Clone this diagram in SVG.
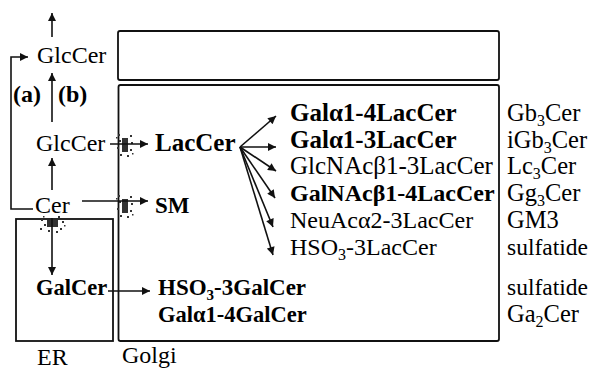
<svg xmlns="http://www.w3.org/2000/svg" width="590" height="369" viewBox="0 0 590 369" font-family="Liberation Serif, Times New Roman, serif">
<defs>
<marker id="ah" viewBox="0 0 10 10" refX="10" refY="5" markerWidth="9" markerHeight="8" markerUnits="userSpaceOnUse" orient="auto"><path d="M0,0 L10,5 L0,10 z" fill="#111"/></marker>
</defs>
<g id="boxes" fill="none" stroke="#111" stroke-width="1.8">
<rect id="topbox" x="118" y="31" width="381" height="49" rx="2"/>
<rect id="golgi-box" x="118.5" y="85" width="380.5" height="256" rx="2"/>
<rect id="er-box" x="16" y="219" width="97" height="122"/>
</g>
<g id="blobs" fill="#333">
<path d="M122,138h6v14h-6z M118,134h2v2h-2z M130,135h2v2h-2z M119,140h2v2h-2z M131,142h2v2h-2z M117,147h2v2h-2z M130,149h2v2h-2z M120,154h2v2h-2z M127,155h2v2h-2z M132,153h1.5v1.5h-1.5z M116,137h1.5v1.5h-1.5z"/>
<path d="M122,199h6v14h-6z M118,195h2v2h-2z M130,196h2v2h-2z M119,201h2v2h-2z M131,203h2v2h-2z M117,208h2v2h-2z M130,210h2v2h-2z M120,215h2v2h-2z M127,216h2v2h-2z M132,214h1.5v1.5h-1.5z M116,198h1.5v1.5h-1.5z"/>
<path d="M47,220h11v7h-11z M41,219h2v2h-2z M44,224h2v2h-2z M62,221h2v2h-2z M60,228h2v2h-2z M40,228h2v2h-2z M48,230h2v2h-2z M56,231h2v2h-2z M64,225h1.5v1.5h-1.5z M43,216h1.5v1.5h-1.5z M58,216h2v2h-2z"/>
</g>
<g id="connectors" stroke="#111" stroke-width="1.6" fill="none" marker-end="url(#ah)">
<line x1="52" y1="37" x2="52" y2="13"/>
<line x1="52" y1="122" x2="52" y2="73"/>
<line x1="52" y1="190" x2="52" y2="158"/>
<line x1="52" y1="218" x2="52" y2="275"/>
<polyline points="33,209 11,209 11,57 28,57"/>
<line x1="110" y1="144" x2="148" y2="144"/>
<line x1="82" y1="201" x2="148" y2="201"/>
<line x1="108" y1="291" x2="150" y2="291"/>
<line x1="240" y1="147" x2="276" y2="116"/>
<line x1="240" y1="147" x2="276" y2="147"/>
<line x1="240" y1="147" x2="276" y2="171"/>
<line x1="240" y1="147" x2="275" y2="198"/>
<line x1="240" y1="147" x2="273" y2="227"/>
<line x1="240" y1="147" x2="273" y2="255"/>
</g>
<g id="n-glccer-top"><text x="37" y="63" font-size="24">GlcCer</text></g>
<g id="n-ab"><text x="13" y="102" font-size="24" font-weight="bold">(a)</text><text x="58" y="102" font-size="24" font-weight="bold">(b)</text></g>
<g id="n-glccer"><text x="36" y="151" font-size="24">GlcCer</text></g>
<g id="n-cer"><text x="35" y="213" font-size="24">Cer</text></g>
<g id="n-galcer"><text x="36" y="295" font-size="22.5" font-weight="bold">GalCer</text></g>
<g id="n-er"><text x="37" y="365" font-size="24">ER</text></g>
<g id="n-golgi"><text x="122" y="363" font-size="24">Golgi</text></g>
<g id="n-laccer"><text x="155" y="151" font-size="25" font-weight="bold">LacCer</text></g>
<g id="n-sm"><text x="155" y="213" font-size="23" font-weight="bold">SM</text></g>
<g id="n-hso3gal"><text x="158" y="295" font-size="23" font-weight="bold">HSO<tspan font-size="15" dy="5">3</tspan><tspan dy="-5">-3GalCer</tspan></text></g>
<g id="n-gal14gal"><text x="158" y="322" font-size="22.5" font-weight="bold">Galα1-4GalCer</text></g>
<g id="n-r1"><text x="290" y="121" font-size="25" font-weight="bold">Galα1-4LacCer</text></g>
<g id="n-r2"><text x="290" y="148" font-size="25" font-weight="bold">Galα1-3LacCer</text></g>
<g id="n-r3"><text x="290" y="174" font-size="25">GlcNAcβ1-3LacCer</text></g>
<g id="n-r4"><text x="290" y="201" font-size="24" font-weight="bold">GalNAcβ1-4LacCer</text></g>
<g id="n-r5"><text x="290" y="228" font-size="24">NeuAcα2-3LacCer</text></g>
<g id="n-r6"><text x="290" y="255" font-size="24">HSO<tspan font-size="16" dy="5">3</tspan><tspan dy="-5">-3LacCer</tspan></text></g>
<g id="names" font-size="24.5">
<text x="507" y="121">Gb<tspan font-size="16" dy="5">3</tspan><tspan dy="-5">Cer</tspan></text>
<text x="507" y="148">iGb<tspan font-size="16" dy="5">3</tspan><tspan dy="-5">Cer</tspan></text>
<text x="507" y="174">Lc<tspan font-size="16" dy="5">3</tspan><tspan dy="-5">Cer</tspan></text>
<text x="507" y="201">Gg<tspan font-size="16" dy="5">3</tspan><tspan dy="-5">Cer</tspan></text>
<text x="507" y="228">GM3</text>
<text x="507" y="255" font-size="23.5">sulfatide</text>
<text x="507" y="295" font-size="23.5">sulfatide</text>
<text x="507" y="322">Ga<tspan font-size="16" dy="5">2</tspan><tspan dy="-5">Cer</tspan></text>
</g>
</svg>
